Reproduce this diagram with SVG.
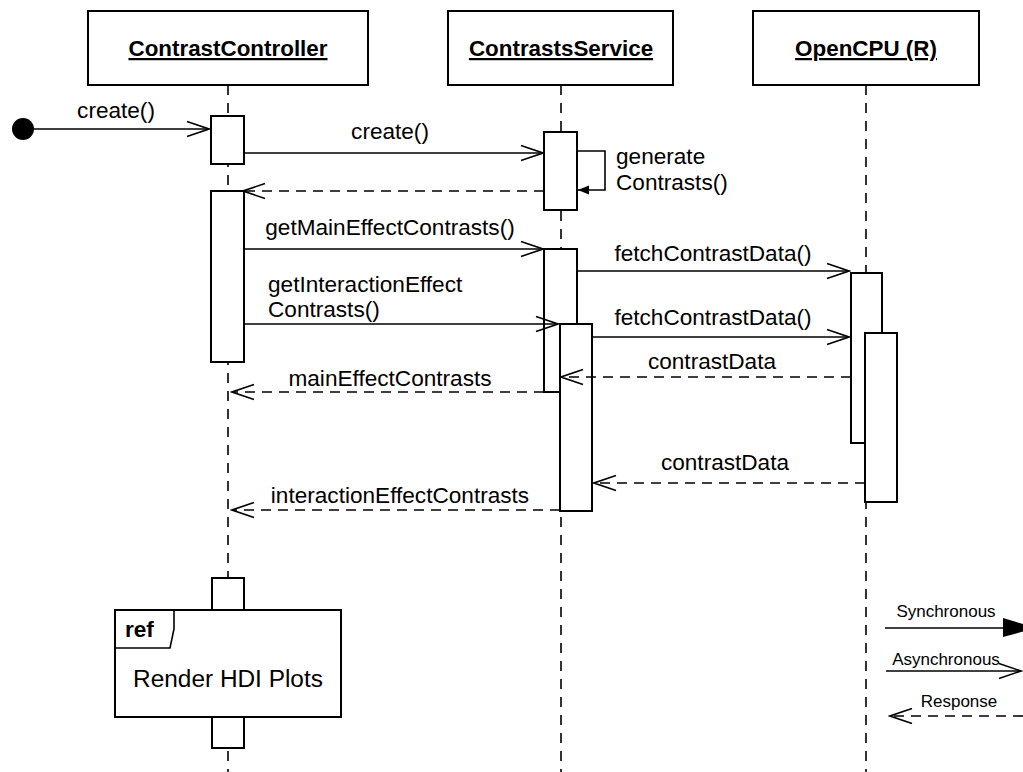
<svg xmlns="http://www.w3.org/2000/svg" width="1023" height="772" viewBox="0 0 1023 772">
  <style>
    .box { fill: #fff; stroke: #000; stroke-width: 2; }
    .life { stroke: #000; stroke-width: 1.6; stroke-dasharray: 10 8; fill: none; }
    .msg { stroke: #000; stroke-width: 1.6; fill: none; }
    .ret { stroke: #000; stroke-width: 1.6; fill: none; stroke-dasharray: 10 7; }
    .hdr { font-family: "Liberation Sans", Arial, sans-serif; font-size: 22.4px; font-weight: bold; text-decoration: underline; text-anchor: middle; }
    .lbl { font-family: "Liberation Sans", Arial, sans-serif; font-size: 22.6px; }
    .big { font-size: 24.4px; }
    .mid { text-anchor: middle; }
    .leg { font-family: "Liberation Sans", Arial, sans-serif; font-size: 17px; text-anchor: middle; }
  </style>
  <defs>
    <marker id="open" viewBox="-24 -10 26 20" refX="0" refY="0" markerWidth="26" markerHeight="20" markerUnits="userSpaceOnUse" orient="auto">
      <path d="M-22,-7.5 L0,0 L-22,7.5" fill="none" stroke="#000" stroke-width="1.6"/>
    </marker>
    <marker id="filled" viewBox="-12 -6 13 12" refX="0" refY="0" markerWidth="13" markerHeight="12" markerUnits="userSpaceOnUse" orient="auto">
      <path d="M-11,-4.5 L0,0 L-11,4.5 Z" fill="#000"/>
    </marker>
  </defs>

  <!-- lifelines -->
  <g id="lifelines">
    <line class="life" x1="228" y1="85" x2="228" y2="772"/>
    <line class="life" x1="561" y1="85" x2="561" y2="772"/>
    <line class="life" x1="866" y1="85" x2="866" y2="772"/>
  </g>

  <!-- participants -->
  <g id="contrast-controller">
    <rect class="box" x="88" y="11" width="280" height="74"/>
    <text class="hdr" x="228" y="56">ContrastController</text>
  </g>
  <g id="contrasts-service">
    <rect class="box" x="448" y="11" width="225" height="74"/>
    <text class="hdr" x="561" y="56">ContrastsService</text>
  </g>
  <g id="opencpu">
    <rect class="box" x="753" y="11" width="226" height="74"/>
    <text class="hdr" x="866" y="56">OpenCPU (R)</text>
  </g>

  <!-- activations -->
  <g id="activations">
    <rect class="box" x="211" y="116" width="33" height="48"/>
    <rect class="box" x="211" y="191" width="33" height="171"/>
    <rect class="box" x="544" y="132" width="33" height="78"/>
    <rect class="box" x="544" y="249" width="33" height="143"/>
    <rect class="box" x="560" y="324" width="32" height="187"/>
    <rect class="box" x="851" y="273" width="31" height="170"/>
    <rect class="box" x="865" y="333" width="32" height="169"/>
    <rect class="box" x="212" y="578" width="32" height="32"/>
    <rect class="box" x="212" y="717" width="32" height="31"/>
  </g>

  <!-- interaction reference -->
  <g id="ref-render-hdi-plots">
    <rect class="box" x="115" y="610" width="226" height="107"/>
    <path d="M115,648 H170 L174,629 V610" fill="none" stroke="#000" stroke-width="1.6"/>
    <text class="lbl" x="125" y="637" font-weight="bold">ref</text>
    <text class="lbl big mid" x="228" y="687">Render HDI Plots</text>
  </g>

  <!-- messages -->
  <g id="connectors">
    <circle cx="23" cy="129" r="11" fill="#000"/>
    <line class="msg" x1="34" y1="129" x2="209" y2="129" marker-end="url(#open)"/>
    <line class="msg" x1="244" y1="153" x2="543" y2="153" marker-end="url(#open)"/>
    <path class="msg" d="M577,151 H605 V190 H578" marker-end="url(#filled)"/>
    <line class="ret" x1="544" y1="191" x2="243" y2="191" marker-end="url(#open)"/>
    <line class="msg" x1="244" y1="249" x2="543" y2="249" marker-end="url(#open)"/>
    <line class="msg" x1="244" y1="324" x2="558" y2="324" marker-end="url(#open)"/>
    <line class="msg" x1="577" y1="271" x2="849" y2="271" marker-end="url(#open)"/>
    <line class="msg" x1="592" y1="337" x2="849" y2="337" marker-end="url(#open)"/>
    <line class="ret" x1="851" y1="377" x2="561" y2="377" marker-end="url(#open)"/>
    <line class="ret" x1="544" y1="392" x2="232" y2="392" marker-end="url(#open)"/>
    <line class="ret" x1="865" y1="483" x2="594" y2="483" marker-end="url(#open)"/>
    <line class="ret" x1="560" y1="510" x2="232" y2="510" marker-end="url(#open)"/>
  </g>

  <!-- message labels -->
  <g id="labels">
    <text class="lbl mid" x="116" y="118">create()</text>
    <text class="lbl mid" x="390" y="139">create()</text>
    <text class="lbl" x="616" y="164">generate</text>
    <text class="lbl" x="616" y="190">Contrasts()</text>
    <text class="lbl mid" x="390" y="235">getMainEffectContrasts()</text>
    <text class="lbl" x="268" y="292">getInteractionEffect</text>
    <text class="lbl" x="268" y="317">Contrasts()</text>
    <text class="lbl mid" x="713" y="261">fetchContrastData()</text>
    <text class="lbl mid" x="713" y="325">fetchContrastData()</text>
    <text class="lbl mid" x="712" y="369">contrastData</text>
    <text class="lbl mid" x="390" y="386">mainEffectContrasts</text>
    <text class="lbl mid" x="725" y="470">contrastData</text>
    <text class="lbl mid" x="400" y="503">interactionEffectContrasts</text>
  </g>

  <!-- legend -->
  <g id="legend">
    <text class="leg" x="946" y="617">Synchronous</text>
    <line class="msg" x1="885" y1="628" x2="1004" y2="628"/>
    <path d="M1003,618 L1036,628 L1003,637 Z" fill="#000"/>
    <text class="leg" x="946" y="665">Asynchronous</text>
    <line class="msg" x1="886" y1="671" x2="1021" y2="671" marker-end="url(#open)"/>
    <text class="leg" x="959" y="707">Response</text>
    <line class="ret" x1="1023" y1="716" x2="890" y2="716" marker-end="url(#open)"/>
  </g>
</svg>
